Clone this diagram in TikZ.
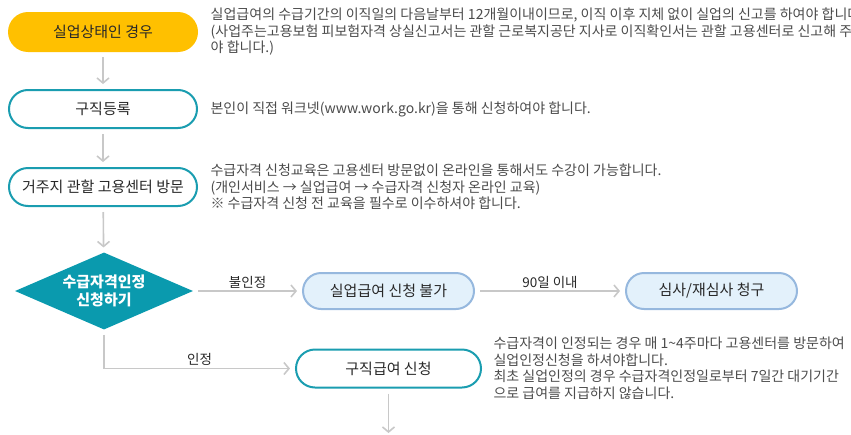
\documentclass[tikz,border=0pt]{standalone}
\usepackage{fontspec}
\setmainfont{Noto Sans CJK KR}
\usetikzlibrary{shapes.geometric, arrows.meta, positioning}
\definecolor{startcolor}{RGB}{255, 192, 0}
\definecolor{tealline}{RGB}{26, 157, 176}
\definecolor{tealfill}{RGB}{10, 154, 174}
\definecolor{palefill}{RGB}{227, 241, 251}
\definecolor{paleline}{RGB}{150, 184, 222}
\definecolor{arrowgray}{RGB}{200, 200, 200}
\definecolor{textdark}{RGB}{40, 40, 40}
\definecolor{textgray}{RGB}{75, 75, 75}

\begin{document}
\begin{tikzpicture}[
    x=1pt, y=-1pt,
    pill/.style={rounded corners=19pt, minimum height=38pt, inner sep=0pt, font=\fontsize{15}{17}\selectfont, text=textdark},
    startbox/.style={pill, fill=startcolor, minimum width=190pt, minimum height=40pt, rounded corners=20pt},
    stepbox/.style={pill, draw=tealline, line width=2pt, fill=white, minimum width=188pt},
    failbox/.style={pill, draw=paleline, line width=2pt, fill=palefill, minimum width=171pt, minimum height=36pt, rounded corners=18pt},
    choice/.style={diamond, fill=tealfill, minimum width=178pt, minimum height=77pt, inner sep=0pt, aspect=2.3, align=center, text=white, font=\fontsize{15}{18}\selectfont\bfseries},
    note/.style={align=left, text=textgray, font=\fontsize{14}{16.5}\selectfont},
    lbl/.style={above, text=textdark, font=\fontsize{13.5}{15}\selectfont, inner sep=2pt},
    arrow/.style={-{Straight Barb[length=5pt, width=12pt]}, line width=1.6pt, arrowgray, shorten <=5pt, shorten >=5pt}
]
    \useasboundingbox (0,0) rectangle (851,434);

    % Main steps
    \node[startbox] (start) at (103, 32) {실업상태인 경우};
    \node[stepbox] (reg) at (103, 109) {구직등록};
    \node[stepbox] (visit) at (103, 187) {거주지 관할 고용센터 방문};
    \node[choice] (dia) at (104, 291) {수급자격인정\\신청하기};

    % Outcomes
    \node[failbox] (fail) at (388.5, 291) {실업급여 신청 불가};
    \node[failbox] (claim) at (711.5, 291) {심사/재심사 청구};
    \node[stepbox, minimum width=185pt] (pay) at (388.5, 368.5) {구직급여 신청};
    \coordinate (next) at (388.5, 436);

    % Notes
    \node[note, right=9pt of start] (note1) {실업급여의 수급기간의 이직일의 다음날부터 12개월이내이므로, 이직 이후 지체 없이 실업의 신고를 하여야 합니다.\\(사업주는고용보험 피보험자격 상실신고서는 관할 근로복지공단 지사로 이직확인서는 관할 고용센터로 신고해 주셔\\야 합니다.)};
    \node[note, right=9pt of reg] (note2) {본인이 직접 워크넷(www.work.go.kr)을 통해 신청하여야 합니다.};
    \node[note, right=9pt of visit] (note3) {수급자격 신청교육은 고용센터 방문없이 온라인을 통해서도 수강이 가능합니다.\\(개인서비스 → 실업급여 → 수급자격 신청자 온라인 교육)\\※ 수급자격 신청 전 교육을 필수로 이수하셔야 합니다.};
    \node[note, right=8pt of pay] (note4) {수급자격이 인정되는 경우 매 1\textasciitilde4주마다 고용센터를 방문하여\\실업인정신청을 하셔야합니다.\\최초 실업인정의 경우 수급자격인정일로부터 7일간 대기기간\\으로 급여를 지급하지 않습니다.};

    % Arrows
    \draw[arrow] (start) -- (reg);
    \draw[arrow] (reg) -- (visit);
    \draw[arrow] (visit) -- (dia);
    \draw[arrow] (dia) -- node[lbl] {불인정} (fail);
    \draw[arrow] (fail) -- node[lbl] {90일 이내} (claim);
    \draw[arrow] (dia) |- node[lbl, pos=0.75] {인정} (pay);
    \draw[arrow, shorten >=3pt] (pay) -- (next);

\end{tikzpicture}
\end{document}
